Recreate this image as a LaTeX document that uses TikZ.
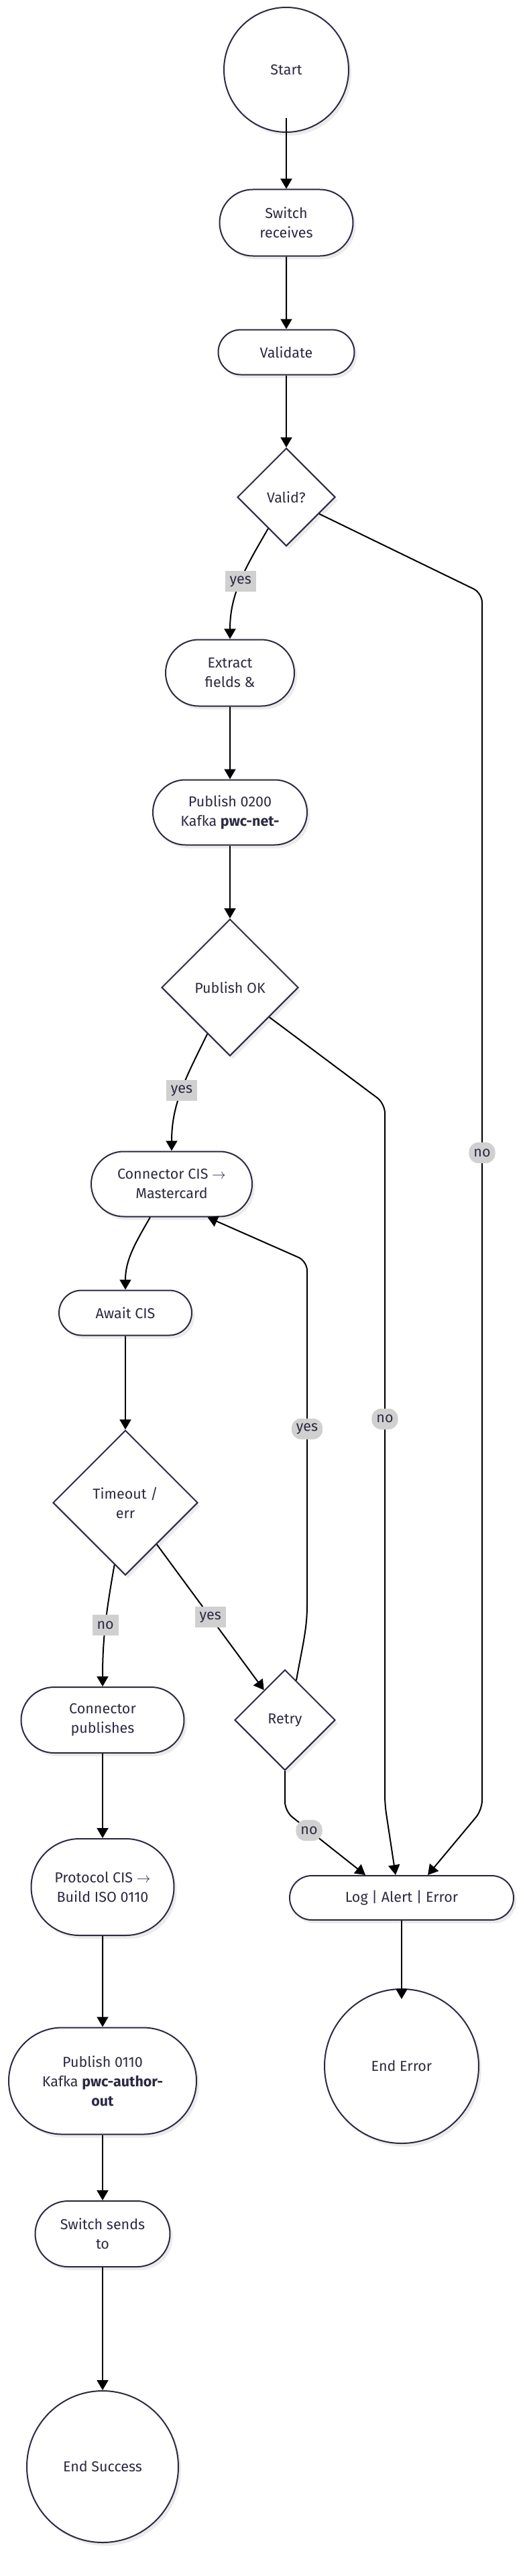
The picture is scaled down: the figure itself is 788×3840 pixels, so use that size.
\documentclass[tikz,border=0pt]{standalone}
\usepackage{fontspec}
\setmainfont{Fira Sans}
\usetikzlibrary{arrows.meta}
\usetikzlibrary{shapes.geometric,shapes.misc}
\usetikzlibrary{shadows}
\definecolor{ink}{HTML}{2B2A42}
\definecolor{lblgray}{HTML}{D0D0D0}
\newcommand{\nfont}{\fontsize{21.5}{29}\selectfont}
\newcommand{\arr}{$\rightarrow$}

\begin{document}
\begin{tikzpicture}[x=1pt, y=1pt, ->, >={Triangle[length=15pt,width=17pt]}, line width=2pt,
    base/.style = {draw=ink, text=ink, fill=white, font=\nfont, align=center, inner sep=2pt,
        drop shadow={shadow xshift=4pt, shadow yshift=-5pt, fill=black!8, opacity=1}},
    term/.style = {base, circle},
    proc/.style = {base, rounded rectangle},
    cond/.style = {base, diamond, aspect=1},
    lbl/.style = {fill=lblgray, text=ink, font=\nfont, inner xsep=7pt, inner ysep=0pt, minimum height=31pt}]
    \useasboundingbox (0,0) rectangle (788,-3840);

    % Nodes
    \node[term, minimum size=186pt] (start) at (427, -104) {Start};
    \node[proc, minimum width=203pt, minimum height=99pt] (recv) at (427, -332) {Switch\\receives};
    \node[proc, minimum width=207pt, minimum height=67pt] (validate) at (427, -525) {Validate};
    \node[cond, minimum size=146pt] (valid) at (427, -741) {Valid?};
    \node[proc, minimum width=196pt, minimum height=99pt] (extract) at (343, -1003) {Extract\\fields \&};
    \node[proc, minimum width=234pt, minimum height=97pt] (pub200) at (343, -1211) {Publish 0200\\Kafka \textbf{pwc-net-}};
    \node[cond, minimum size=204pt] (pubok) at (343, -1472) {Publish OK};
    \node[proc, minimum width=244pt, minimum height=97pt] (conn) at (256, -1765) {Connector CIS \arr\\Mastercard};
    \node[proc, minimum width=202pt, minimum height=67pt] (await) at (187, -1957) {Await CIS};
    \node[cond, minimum size=216pt] (tmo) at (187, -2240) {Timeout /\\err};
    \node[proc, minimum width=247pt, minimum height=98pt] (cpub) at (153, -2564) {Connector\\publishes};
    \node[cond, minimum size=150pt] (retry) at (425, -2564) {Retry};
    \node[proc, minimum width=217pt, minimum height=144pt] (proto) at (153, -2813) {Protocol CIS \arr\\Build ISO 0110};
    \node[proc, minimum width=338pt, minimum height=66pt] (logerr) at (599, -2829) {Log | Alert | Error};
    \node[term, minimum size=230pt] (enderr) at (599, -3080) {End Error};
    \node[proc, minimum width=284pt, minimum height=159pt] (pub110) at (153, -3102) {Publish 0110\\Kafka \textbf{pwc-author-}\\\textbf{out}};
    \node[proc, minimum width=205pt, minimum height=98pt] (send) at (153, -3330) {Switch sends\\to};
    \node[term, minimum size=226pt] (endok) at (153, -3677) {End Success};

    % Bends
    \coordinate (vno1) at (719, -884);
    \coordinate (vno2) at (719, -2698);
    \coordinate (pno1) at (574, -1645);
    \coordinate (pno2) at (574, -2690);
    \coordinate (ry1) at (458, -2380);
    \coordinate (ry2) at (458, -1880);
    \coordinate (rno1) at (425, -2700);

    % Edges
    \draw[shorten <=-22pt] (start) -- (recv);
    \draw (recv) -- (validate);
    \draw (validate) -- (valid);
    \draw (valid.240) to[out=240, in=90] node[lbl] {yes} (extract);
    \draw[rounded corners=14pt] (valid.333) -- (vno1) -- node[lbl, pos=0.46] {no} (vno2) -- ([xshift=39pt]logerr.north);
    \draw (extract) -- (pub200);
    \draw (pub200) -- (pubok);
    \draw (pubok.244) to[out=244, in=90] node[lbl] {yes} (conn);
    \draw[rounded corners=14pt] (pubok.323) -- (pno1) -- node[lbl, pos=0.45] {no} (pno2) -- ([xshift=-9pt]logerr.north);
    \draw ([xshift=-32pt]conn.south) to[out=240, in=90] (await);
    \draw (await) -- (tmo);
    \draw (tmo.260) to[out=260, in=90] node[lbl] {no} (cpub);
    \draw (tmo.307) -- node[lbl] {yes} (retry.125);
    \draw[rounded corners=14pt] (retry.74) to[out=80, in=-90] (ry1) -- node[lbl] {yes} (ry2) -- ([xshift=-18pt]conn.south east);
    \draw[rounded corners=14pt] (retry.south) -- (rno1) -- node[lbl, pos=0.3] {no} ([xshift=-54pt]logerr.north);
    \draw (cpub) -- (proto);
    \draw (proto) -- (pub110);
    \draw (pub110) -- (send);
    \draw (send) -- (endok);
    \draw[shorten >=-16pt] (logerr) -- (enderr);
\end{tikzpicture}
\end{document}
